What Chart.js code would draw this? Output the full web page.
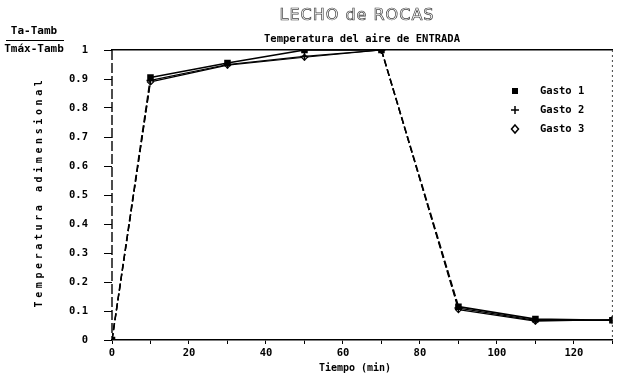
<!DOCTYPE html>
<html lang="es">
<head>
  <meta charset="UTF-8">
  <title>Lecho de rocas</title>
  <script src="https://cdn.jsdelivr.net/npm/chart.js"></script>
  <style>
    body {
      margin: 0;
      background: #fff;
    }
    #grafico {
      display: block;
    }
  </style>
</head>
<body>
  <canvas id="grafico" width="618" height="380"></canvas>

  <script>
    // datos
    const tiempos = [0, 10, 30, 50, 70, 90, 110, 130];
    const gasto1 = [0, 0.905, 0.955, 1.0, 1.0, 0.115, 0.072, 0.068];
    const gasto2 = [0, 0.895, 0.95, 0.978, 1.0, 0.11, 0.068, 0.068];
    const gasto3 = [0, 0.89, 0.948, 0.975, 1.0, 0.105, 0.065, 0.07];
    const nombres = ['Gasto 1', 'Gasto 2', 'Gasto 3'];

    const xTicks = [0, 10, 20, 30, 40, 50, 60, 70, 80, 90, 100, 110, 120, 130];
    const xEtiquetas = ['0', '', '20', '', '40', '', '60', '', '80', '', '100', '', '120', ''];
    const yTicks = [0, 0.1, 0.2, 0.3, 0.4, 0.5, 0.6, 0.7, 0.8, 0.9, 1];
    const yEtiquetas = ['0', '0.1', '0.2', '0.3', '0.4', '0.5', '0.6', '0.7', '0.8', '0.9', '1'];

    const mono = '"DejaVu Sans Mono", monospace';

    function puntos(valores) {
      return tiempos.map((t, i) => ({ x: t, y: valores[i] }));
    }

    // tramos con mucha pendiente se ven punteados en el original
    const tramo = {
      borderDash: ctx => Math.abs(ctx.p1.parsed.y - ctx.p0.parsed.y) > 0.5 ? [7, 3] : undefined
    };

    // bordes izquierdo (discontinuo) y derecho (punteado)
    const marco = {
      id: 'marco',
      beforeDatasetsDraw(chart) {
        const a = chart.chartArea;
        const c = chart.ctx;
        c.save();
        c.strokeStyle = '#000';
        c.lineWidth = 1.4;
        c.setLineDash([10, 3]);
        c.beginPath();
        c.moveTo(a.left, a.top);
        c.lineTo(a.left, a.bottom);
        c.stroke();
        c.lineWidth = 1;
        c.strokeStyle = '#444';
        c.setLineDash([2, 3]);
        c.beginPath();
        c.moveTo(a.right, a.top);
        c.lineTo(a.right, a.bottom);
        c.stroke();
        c.restore();
      }
    };

    const textos = {
      id: 'textos',
      afterDraw(chart) {
        const c = chart.ctx;
        c.save();
        c.fillStyle = '#000';
        c.textBaseline = 'middle';

        // titulo
        c.font = '16px "DejaVu Sans", sans-serif';
        c.textAlign = 'center';
        c.letterSpacing = '1px';
        c.strokeStyle = '#444';
        c.lineWidth = 0.7;
        c.strokeText('LECHO de ROCAS', 357, 16);
        c.letterSpacing = '0px';

        c.font = 'bold 10.5px ' + mono;
        c.fillText('Temperatura del aire de ENTRADA', 362, 39);

        // fraccion del eje y
        c.font = 'bold 11px ' + mono;
        c.fillText('Ta-Tamb', 34, 31);
        c.fillText('Tmáx-Tamb', 34, 49);
        c.fillRect(6, 40, 58, 1);

        // titulo vertical
        c.save();
        c.translate(39, 192);
        c.rotate(-Math.PI / 2);
        c.font = 'bold 10px ' + mono;
        c.letterSpacing = '3.6px';
        c.fillText('Temperatura adimensional', 0, 0);
        c.restore();

        // titulo eje x
        c.font = 'bold 10px ' + mono;
        c.fillText('Tiempo (min)', 355, 368);

        // leyenda
        const marcas = chart.data.datasets;
        c.font = 'bold 10.5px ' + mono;
        c.textAlign = 'left';
        marcas.forEach((ds, i) => {
          const y = 91 + i * 19;
          const x = 515;
          c.strokeStyle = '#000';
          c.lineWidth = 1.5;
          if (ds.pointStyle === 'rect') {
            c.fillRect(x - 3, y - 3, 6, 6);
          } else if (ds.pointStyle === 'cross') {
            c.beginPath();
            c.moveTo(x - 4, y); c.lineTo(x + 4, y);
            c.moveTo(x, y - 4); c.lineTo(x, y + 4);
            c.stroke();
          } else {
            c.beginPath();
            c.moveTo(x, y - 4); c.lineTo(x + 3.5, y); c.lineTo(x, y + 4); c.lineTo(x - 3.5, y);
            c.closePath();
            c.stroke();
          }
          c.fillText(ds.label, 540, y);
        });
        c.restore();
      }
    };

    new Chart(document.getElementById('grafico'), {
      type: 'line',
      data: {
        datasets: [
          {
            label: nombres[0],
            data: puntos(gasto1),
            borderColor: '#000',
            backgroundColor: '#000',
            borderWidth: 1.6,
            pointStyle: 'rect',
            pointRadius: 3.5,
            segment: tramo
          },
          {
            label: nombres[1],
            data: puntos(gasto2),
            borderColor: '#000',
            backgroundColor: '#000',
            borderWidth: 1.2,
            pointStyle: 'cross',
            pointRadius: 4,
            pointBorderWidth: 1.5,
            segment: tramo
          },
          {
            label: nombres[2],
            data: puntos(gasto3),
            borderColor: '#000',
            backgroundColor: '#fff',
            borderWidth: 1.2,
            pointStyle: 'rectRot',
            pointRadius: 3,
            pointBorderWidth: 1.2,
            segment: tramo
          }
        ]
      },
      options: {
        responsive: false,
        animation: false,
        layout: { padding: { top: 50, right: 4, left: 0, bottom: 0 } },
        plugins: {
          legend: { display: false },
          tooltip: { enabled: false }
        },
        scales: {
          x: {
            type: 'linear',
            min: 0,
            max: 130,
            afterBuildTicks: s => { s.ticks = xTicks.map(v => ({ value: v })); },
            afterFit: s => { s.height = 40; },
            ticks: {
              autoSkip: false,
              maxRotation: 0,
              padding: 3,
              color: '#000',
              font: { family: mono, size: 10.5, weight: 'bold' },
              callback: (v, i) => xEtiquetas[i]
            },
            grid: { drawOnChartArea: false, tickLength: 4, color: '#000' },
            border: { color: '#000', width: 1.6 }
          },
          xArriba: {
            type: 'linear',
            position: 'top',
            min: 0,
            max: 130,
            afterFit: s => { s.height = 0; },
            ticks: { display: false },
            grid: { display: false, drawTicks: false },
            border: { color: '#000', width: 1.6 }
          },
          y: {
            min: 0,
            max: 1,
            afterBuildTicks: s => { s.ticks = yTicks.map(v => ({ value: v })); },
            afterFit: s => { s.width = 112; },
            ticks: {
              padding: 16,
              color: '#000',
              font: { family: mono, size: 10.5, weight: 'bold' },
              callback: (v, i) => yEtiquetas[i]
            },
            grid: { drawOnChartArea: false, tickLength: 8, color: '#000' },
            border: { display: false }
          },
          yDerecha: {
            position: 'right',
            min: 0,
            max: 1,
            afterFit: s => { s.width = 0; },
            ticks: { display: false },
            grid: { display: false, drawTicks: false },
            border: { display: false }
          }
        }
      },
      plugins: [marco, textos]
    });
  </script>
</body>
</html>
